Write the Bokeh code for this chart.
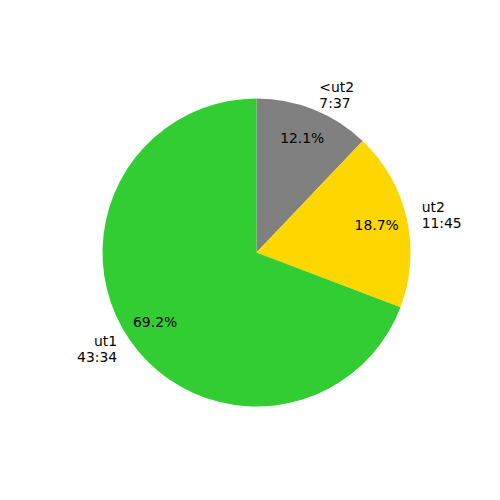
import math
from bokeh.plotting import figure
from bokeh.models import Range1d, ColumnDataSource
from bokeh.core.properties import value
from bokeh.embed import file_html
from bokeh.resources import INLINE

# Data
categories = ["<ut2", "ut2", "ut1"]
durations = ["7:37", "11:45", "43:34"]
colors = ["#808080", "#FFD700", "#32CD32"]

def to_sec(s):
    m, sec = s.split(":")
    return int(m) * 60 + int(sec)

secs = [to_sec(d) for d in durations]
total = sum(secs)

R = 154.0
p = figure(width=484, height=484, output_backend="svg", toolbar_location=None,
           x_range=Range1d(-256, 228), y_range=Range1d(-232, 252), min_border=0)
p.axis.visible = False
p.grid.visible = False
p.outline_line_color = None

cum = 0.0
starts, ends = [], []
lx, ly, la, lt = [], [], [], []
px, py, pt = [], [], []
for cat, dur, s in zip(categories, durations, secs):
    frac = s / total
    a_start = math.pi / 2 - (cum + frac) * 2 * math.pi
    a_end = math.pi / 2 - cum * 2 * math.pi
    starts.append(a_start)
    ends.append(a_end)
    mid = (a_start + a_end) / 2
    x = 1.1 * R * math.cos(mid)
    y = 1.1 * R * math.sin(mid)
    lx.append(x); ly.append(y)
    la.append("left" if x > 0 else "right")
    lt.append(f"{cat}\n{dur}")
    px.append(0.8 * R * math.cos(mid)); py.append(0.8 * R * math.sin(mid))
    pt.append(f"{frac*100:.1f}%")
    cum += frac

src = ColumnDataSource(dict(start=starts, end=ends, color=colors))
p.wedge(x=0, y=0, radius=R, start_angle="start", end_angle="end",
        fill_color="color", line_color=None, source=src)

lsrc = ColumnDataSource(dict(x=lx, y=ly, t=lt, a=la))
p.text(x="x", y="y", text="t", text_align="a", text_baseline="middle",
       text_font=value("DejaVu Sans"), text_font_size="13.9px", text_color="black",
       text_line_height=1.0, source=lsrc)

psrc = ColumnDataSource(dict(x=px, y=py, t=pt))
p.text(x="x", y="y", text="t", text_align="center", text_baseline="middle",
       text_font=value("DejaVu Sans"), text_font_size="13.9px", text_color="black",
       source=psrc)

open("out.html", "w").write(file_html(p, INLINE))
